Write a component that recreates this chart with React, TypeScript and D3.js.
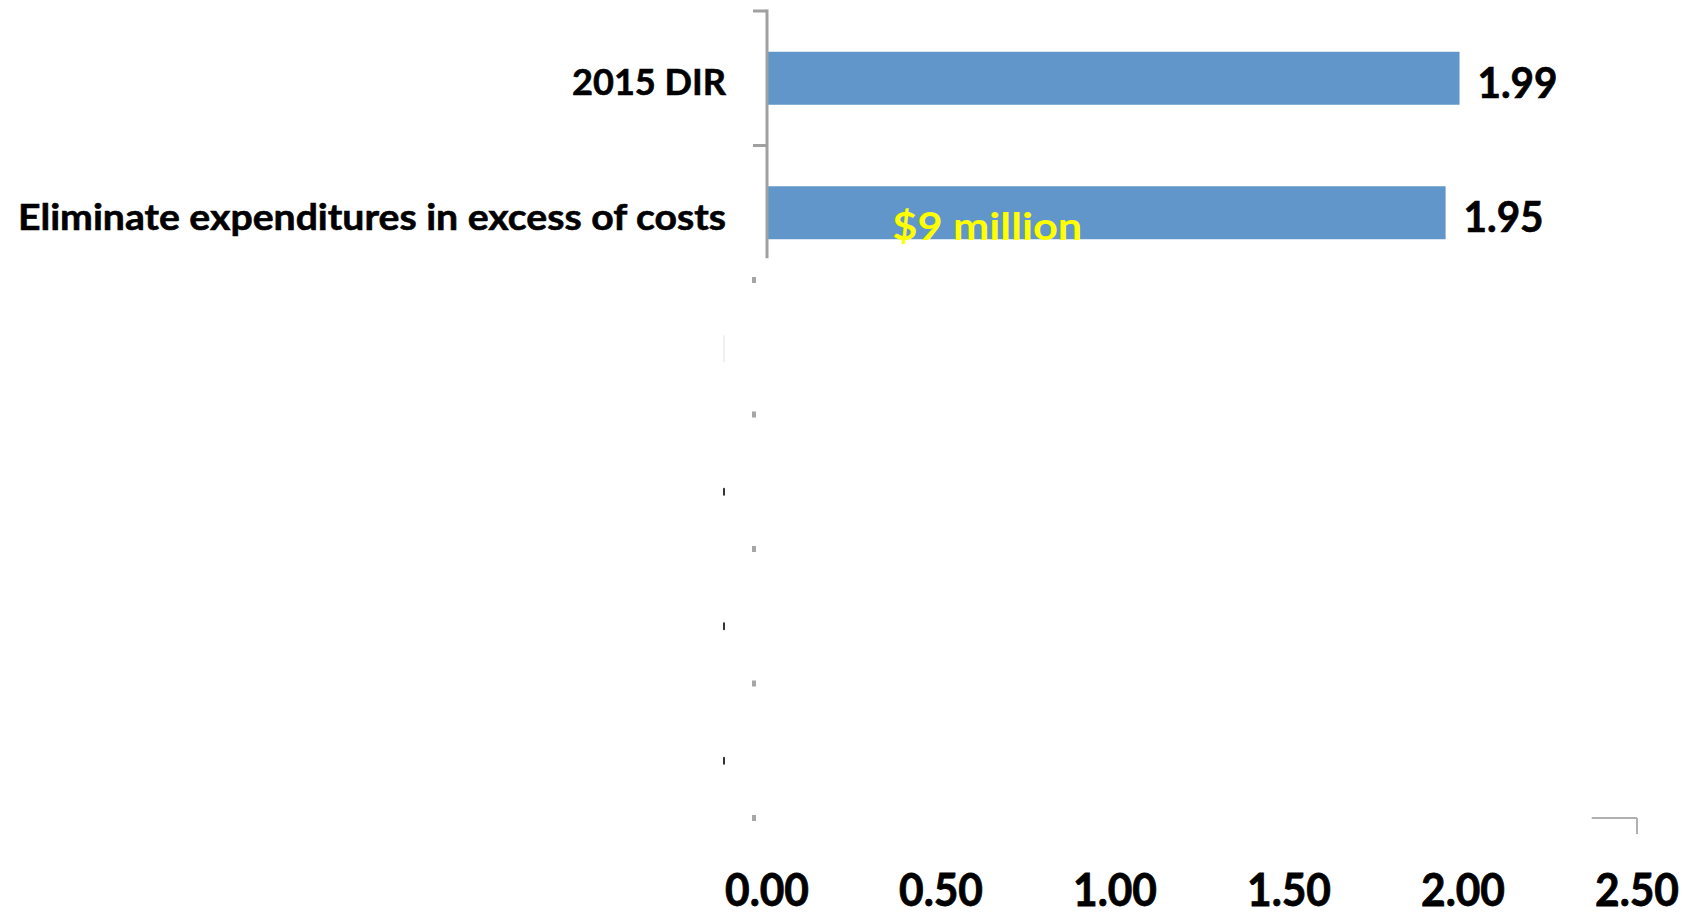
import React from "react";
import * as d3 from "d3";

const categories = ["2015 DIR", "Eliminate expenditures in excess of costs", "", "", "", ""];
const values = [1.99, 1.95];
const valueLabels = ["1.99", "1.95"];
const xTicks = [0, 0.5, 1, 1.5, 2, 2.5];
const xTickLabels = ["0.00", "0.50", "1.00", "1.50", "2.00", "2.50"];
const annotation = "$9 million";
const annotationValue = 0.36;

const W = 1694;
const H = 916;
const FONT = "Lato, 'Open Sans', sans-serif";

export default function App() {
  const x = d3.scaleLinear().domain([0, 2.5]).range([767, 1637]);
  const idx = categories.map((_, i) => String(i));
  const y = d3
    .scaleBand<string>()
    .domain(idx)
    .range([11, 818])
    .paddingInner(0.606)
    .paddingOuter(0.303);
  const step = y.step();
  const bw = y.bandwidth();
  const y0 = y.range()[0];
  const boundary = (i: number) => y0 + i * step;
  const center = (i: number) => (y(String(i)) as number) + bw / 2;
  const axisGray = "#A0A0A0";
  const lastTickY = boundary(categories.length);
  const axisEndY = (y("1") as number) + bw + 19;

  return (
    <svg
      width={W}
      height={H}
      style={{ position: "absolute", left: 0, top: 0, background: "#fff" }}
      fontFamily={FONT}
    >
      <rect x={0} y={0} width={W} height={H} fill="#fff" />
      {/* bars */}
      {values.map((v, i) => (
        <rect
          key={"b" + i}
          x={x(0) + 1}
          y={y(String(i))}
          width={x(v) - x(0) - 1}
          height={bw}
          fill="#6096C9"
        />
      ))}
      {/* y axis line (partial) */}
      <line x1={x(0)} x2={x(0)} y1={boundary(0) - 1.5} y2={axisEndY} stroke={axisGray} strokeWidth={3} />
      {[0, 1].map((i) => (
        <line
          key={"t" + i}
          x1={x(0) - 14}
          x2={x(0)}
          y1={boundary(i)}
          y2={boundary(i)}
          stroke={axisGray}
          strokeWidth={3}
        />
      ))}
      {/* residual tick dots */}
      {d3.range(2, categories.length + 1).map((i) => (
        <rect key={"d" + i} x={x(0) - 15} y={boundary(i) - 3} width={4} height={6} fill="#A6A6A6" />
      ))}
      {/* residual label marks */}
      <line x1={724} x2={724} y1={center(2) - 12} y2={center(2) + 15} stroke="#EBEBEB" strokeWidth={1.5} />
      {[3, 4, 5].map((i) => (
        <rect key={"m" + i} x={723} y={center(i) + 6} width={2} height={8} rx={1} fill="#333" />
      ))}
      {/* x axis fragment */}
      <line x1={x(2.37)} x2={x(2.5)} y1={lastTickY} y2={lastTickY} stroke="#B0B0B0" strokeWidth={2} />
      <line x1={x(2.5)} x2={x(2.5)} y1={lastTickY} y2={lastTickY + 16} stroke="#B0B0B0" strokeWidth={2} />
      {/* category labels */}
      {categories.slice(0, 2).map((c, i) => (
        <text
          key={"c" + i}
          x={x(0) - 41}
          y={center(i) + 17}
          textAnchor="end"
          fontSize={37}
          fontWeight={700}
          fill="#000"
          stroke="#000"
          strokeWidth={0.6}
          textLength={i === 0 ? 154 : 708}
          lengthAdjust="spacingAndGlyphs"
        >
          {c}
        </text>
      ))}
      {/* value labels */}
      {values.map((v, i) => (
        <text
          key={"v" + i}
          x={x(v) + 18}
          y={center(i) + 19.5}
          fontSize={41.5}
          fontWeight={700}
          fill="#000"
          stroke="#000"
          strokeWidth={0.7}
          textLength={80}
          lengthAdjust="spacingAndGlyphs"
        >
          {valueLabels[i]}
        </text>
      ))}
      {/* annotation */}
      <text
        x={x(annotationValue)}
        y={(y("1") as number) + bw + 1}
        fontSize={38}
        fontWeight={700}
        fill="#FFFF00"
        textLength={190}
        lengthAdjust="spacingAndGlyphs"
      >
        {annotation}
      </text>
      {/* x tick labels */}
      {xTicks.map((t, i) => (
        <text
          key={"x" + i}
          x={x(t)}
          y={906}
          textAnchor="middle"
          fontSize={45}
          fontWeight={700}
          fill="#000"
          stroke="#000"
          strokeWidth={0.8}
          textLength={84}
          lengthAdjust="spacingAndGlyphs"
        >
          {xTickLabels[i]}
        </text>
      ))}
    </svg>
  );
}
